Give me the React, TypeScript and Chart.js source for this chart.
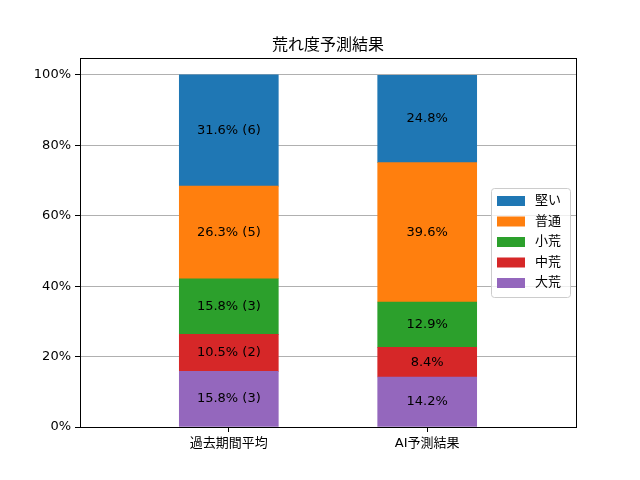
import { useEffect, useRef } from "react";
import { Chart, registerables } from "chart.js";

Chart.register(...registerables);

const categories = ["過去期間平均", "AI予測結果"];
const seriesNames = ["大荒", "中荒", "小荒", "普通", "堅い"];
const seriesColors = ["#9467bd", "#d62728", "#2ca02c", "#ff7f0e", "#1f77b4"];
const pastPct = [15.8, 10.5, 15.8, 26.3, 31.6];
const pastCounts = [3, 2, 3, 5, 6];
const aiPct = [14.2, 8.4, 12.9, 39.6, 24.8];
const yTicks = [0, 20, 40, 60, 80, 100];

const FONT = "'DejaVu Sans', 'Noto Sans CJK JP', sans-serif";

const decorPlugin = {
  id: "decor",
  afterDatasetsDraw(chart: Chart) {
    const ctx = chart.ctx;
    const area = chart.chartArea;
    ctx.save();
    // segment labels
    ctx.font = `13px ${FONT}`;
    ctx.fillStyle = "#000";
    ctx.textAlign = "center";
    ctx.textBaseline = "middle";
    chart.data.datasets.forEach((_ds, di) => {
      const meta = chart.getDatasetMeta(di);
      meta.data.forEach((el: any, i) => {
        const text =
          i === 0
            ? `${pastPct[di].toFixed(1)}% (${pastCounts[di]})`
            : `${aiPct[di].toFixed(1)}%`;
        ctx.fillText(text, el.x, (el.y + el.base) / 2);
      });
    });
    // frame
    ctx.strokeStyle = "#000";
    ctx.lineWidth = 1;
    ctx.strokeRect(
      Math.round(area.left) + 0.5,
      Math.round(area.top) + 0.5,
      Math.round(area.right - area.left),
      Math.round(area.bottom - area.top),
    );
    // title
    ctx.font = `16px ${FONT}`;
    ctx.textBaseline = "alphabetic";
    ctx.fillText("荒れ度予測結果", (area.left + area.right) / 2, 50);
    // legend
    const bx = 491;
    const by = 188;
    const bw = 79;
    const bh = 109;
    ctx.fillStyle = "rgba(255,255,255,0.8)";
    ctx.strokeStyle = "#cccccc";
    ctx.beginPath();
    ctx.roundRect(bx + 0.5, by + 0.5, bw, bh, 3);
    ctx.fill();
    ctx.stroke();
    ctx.font = `13px ${FONT}`;
    ctx.textAlign = "left";
    ctx.textBaseline = "middle";
    for (let k = 0; k < seriesNames.length; k++) {
      const si = seriesNames.length - 1 - k;
      const cy = 201 + k * 20.5;
      ctx.fillStyle = seriesColors[si];
      ctx.fillRect(497, cy - 5, 28, 10);
      ctx.fillStyle = "#000";
      ctx.fillText(seriesNames[si], 535, cy);
    }
    ctx.restore();
  },
};

export default function App() {
  const canvasRef = useRef<HTMLCanvasElement | null>(null);

  useEffect(() => {
    document.body.style.margin = "0";
    if (!canvasRef.current) return;
    const chart = new Chart(canvasRef.current, {
      type: "bar",
      data: {
        datasets: seriesNames.map((name, i) => ({
          label: name,
          data: [
            { x: 0, y: pastPct[i] },
            { x: 1, y: aiPct[i] },
          ],
          backgroundColor: seriesColors[i],
          borderWidth: 0,
          barThickness: 99,
        })),
      },
      options: {
        responsive: false,
        animation: false,
        layout: { padding: { left: 0, right: 64, top: 58, bottom: 0 } },
        plugins: {
          legend: { display: false },
          title: { display: false },
          tooltip: { enabled: false },
        },
        scales: {
          x: {
            type: "linear",
            stacked: true,
            offset: false,
            min: -0.75,
            max: 1.75,
            afterBuildTicks: (scale: any) => {
              scale.ticks = [{ value: 0 }, { value: 1 }];
            },
            afterFit: (scale: any) => {
              scale.height = 53;
            },
            grid: {
              offset: false,
              drawOnChartArea: false,
              tickLength: 5,
              tickColor: "#000",
            },
            border: { display: true, color: "#000" },
            ticks: {
              color: "#000",
              font: { family: FONT, size: 13 },
              padding: 4,
              callback: (v: any) => categories[v] ?? "",
            },
          },
          y: {
            stacked: true,
            min: 0,
            max: 104.8,
            afterBuildTicks: (scale: any) => {
              scale.ticks = yTicks.map((v) => ({ value: v }));
            },
            afterFit: (scale: any) => {
              scale.width = 80;
            },
            grid: {
              color: "#b0b0b0",
              tickColor: "#000",
              tickLength: 5,
            },
            border: { display: true, color: "#000" },
            ticks: {
              color: "#000",
              font: { family: FONT, size: 13 },
              padding: 4,
              callback: (v: any) => `${v}%`,
            },
          },
        },
      },
      plugins: [decorPlugin],
    });
    return () => chart.destroy();
  }, []);

  return (
    <div style={{ width: 640, height: 480 }}>
      <canvas ref={canvasRef} width={640} height={480} />
    </div>
  );
}
